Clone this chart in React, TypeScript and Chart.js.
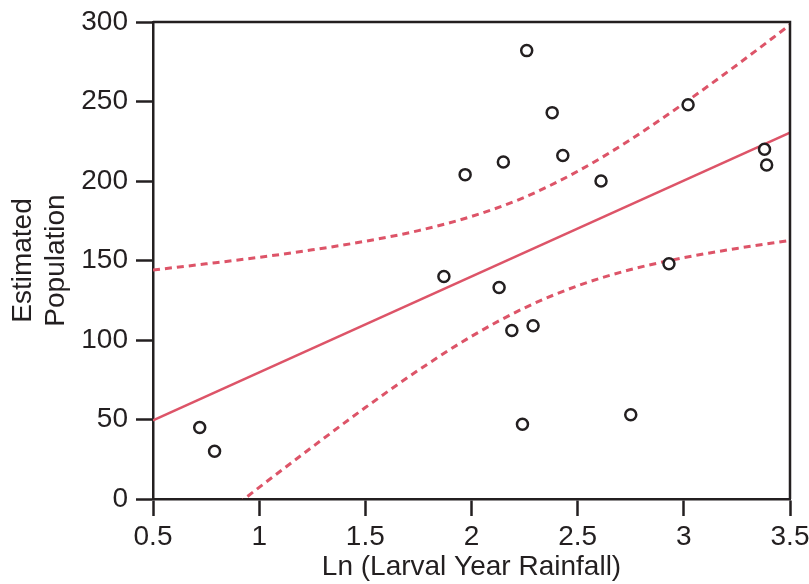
import React, { useEffect, useRef } from "react";
import { Chart, registerables } from "chart.js";

Chart.register(...registerables);

// Observed points: Ln(larval year rainfall) vs estimated population
const rainfallLn = [0.72, 0.79, 1.87, 1.97, 2.15, 2.26, 2.38, 2.43, 2.61, 3.02, 3.38, 3.39, 2.13, 2.19, 2.29, 2.24, 2.75, 2.93];
const population = [45, 30, 140, 204, 212, 282, 243, 216, 200, 248, 220, 210, 133, 106, 109, 47, 53, 148];

// Fitted regression line (end points)
const fitX = [0.5, 3.5];
const fitY = [49.5, 230.4];

// Confidence band
const bandX = [0.5, 0.75, 1.0, 1.25, 1.5, 1.75, 2.0, 2.25, 2.5, 2.75, 3.0, 3.25, 3.5];
const bandUpper = [144.0, 147.9, 152.0, 156.7, 162.1, 168.8, 177.7, 189.8, 206.1, 226.1, 248.8, 273.0, 298.2];
const bandLower = [-45.0, -18.7, 7.3, 32.7, 57.5, 81.0, 102.3, 120.2, 134.1, 144.3, 151.8, 157.6, 162.6];

// Axis ticks
const xTickValues = [0.5, 1, 1.5, 2, 2.5, 3, 3.5];
const xTickLabels = ["0.5", "1", "1.5", "2", "2.5", "3", "3.5"];
const yTickValues = [0, 50, 100, 150, 200, 250, 300];
const yTickLabels = ["0", "50", "100", "150", "200", "250", "300"];

const xTitle = "Ln (Larval Year Rainfall)";
const yTitle = ["Estimated", "Population"];

const INK = "#231f20";
const RED = "#dd5468";
const FONT = "'Liberation Sans', Arial, Helvetica, sans-serif";

const boxPlugin = {
  id: "boxPlugin",
  afterDatasetsDraw(chart: any) {
    const { ctx, chartArea } = chart;
    ctx.save();
    ctx.strokeStyle = INK;
    ctx.lineWidth = 2.5;
    ctx.beginPath();
    ctx.moveTo(chartArea.left, chartArea.top);
    ctx.lineTo(chartArea.right, chartArea.top);
    ctx.lineTo(chartArea.right, chartArea.bottom);
    ctx.stroke();
    ctx.restore();
  },
};

export default function App() {
  const ref = useRef<HTMLCanvasElement | null>(null);

  useEffect(() => {
    document.body.style.margin = "0";
    if (!ref.current) return;
    const chart = new Chart(ref.current, {
      type: "scatter",
      data: {
        datasets: [
          {
            label: "Observed",
            data: rainfallLn.map((x, i) => ({ x, y: population[i] })),
            pointRadius: 5.5,
            pointBorderWidth: 2.5,
            pointBorderColor: INK,
            pointBackgroundColor: "#ffffff",
            showLine: false,
          },
          {
            label: "Fit",
            data: fitX.map((x, i) => ({ x, y: fitY[i] })),
            showLine: true,
            borderColor: RED,
            borderWidth: 2.5,
            pointRadius: 0,
          },
          {
            label: "Upper",
            data: bandX.map((x, i) => ({ x, y: bandUpper[i] })),
            showLine: true,
            borderColor: RED,
            borderWidth: 3,
            borderDash: [7, 5],
            pointRadius: 0,
            cubicInterpolationMode: "monotone",
          },
          {
            label: "Lower",
            data: bandX.map((x, i) => ({ x, y: bandLower[i] })),
            showLine: true,
            borderColor: RED,
            borderWidth: 3,
            borderDash: [7, 5],
            pointRadius: 0,
            cubicInterpolationMode: "monotone",
          },
        ],
      },
      options: {
        responsive: false,
        animation: false,
        layout: { padding: { top: 22, right: 19, left: 0, bottom: 0 } },
        plugins: {
          legend: { display: false },
          tooltip: { enabled: false },
        },
        scales: {
          x: {
            type: "linear",
            position: "bottom",
            min: 0.5,
            max: 3.5,
            afterBuildTicks: (scale: any) => {
              scale.ticks = xTickValues.map((v) => ({ value: v }));
            },
            afterFit: (scale: any) => {
              scale.height = 85;
              scale.paddingLeft = 0;
              scale.paddingRight = 0;
            },
            border: { display: true, color: INK, width: 2.5 },
            grid: {
              drawOnChartArea: false,
              drawTicks: true,
              tickLength: 17,
              tickWidth: 2.5,
              tickColor: INK,
            },
            ticks: {
              color: INK,
              font: { family: FONT, size: 28 },
              padding: 4,
              maxRotation: 0,
              autoSkip: false,
              callback: (_v: any, i: number) => xTickLabels[i],
            },
            title: {
              display: true,
              text: xTitle,
              color: INK,
              font: { family: FONT, size: 28 },
              padding: { top: 0, bottom: 0 },
            },
          },
          y: {
            type: "linear",
            min: 0,
            max: 300,
            afterBuildTicks: (scale: any) => {
              scale.ticks = yTickValues.map((v) => ({ value: v }));
            },
            afterFit: (scale: any) => {
              scale.width = 153;
              scale.paddingTop = 0;
              scale.paddingBottom = 0;
            },
            border: { display: true, color: INK, width: 2.5 },
            grid: {
              drawOnChartArea: false,
              drawTicks: true,
              tickLength: 17,
              tickWidth: 2.5,
              tickColor: INK,
            },
            ticks: {
              color: INK,
              font: { family: FONT, size: 28 },
              padding: 8,
              autoSkip: false,
              callback: (_v: any, i: number) => yTickLabels[i],
            },
            title: {
              display: true,
              text: yTitle,
              color: INK,
              font: { family: FONT, size: 28 },
              padding: { top: 6, bottom: 0 },
            },
          },
        },
      },
      plugins: [boxPlugin],
    });
    return () => chart.destroy();
  }, []);

  return (
    <div style={{ position: "absolute", left: 0, top: 0, width: 809, height: 584 }}>
      <canvas ref={ref} width={809} height={584} />
    </div>
  );
}
